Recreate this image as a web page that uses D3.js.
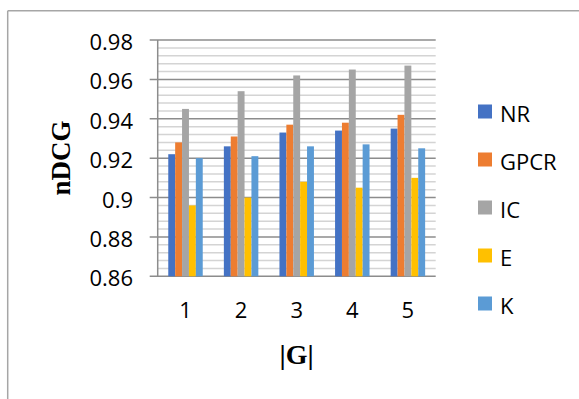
<!DOCTYPE html>
<html>
<head>
<meta charset="utf-8">
<script src="https://cdn.jsdelivr.net/npm/d3@7"></script>
<style>
  html, body { margin: 0; padding: 0; background: #fff; }
  svg { display: block; }
</style>
</head>
<body>
<svg id="chart" width="579" height="399"></svg>
<script>
const categories = ["1", "2", "3", "4", "5"];
const seriesNames = ["NR", "GPCR", "IC", "E", "K"];
const seriesColors = ["#4472C4", "#ED7D31", "#A5A5A5", "#FFC000", "#5B9BD5"];
const NR   = [0.922, 0.926, 0.933, 0.934, 0.935];
const GPCR = [0.928, 0.931, 0.937, 0.938, 0.942];
const IC   = [0.945, 0.954, 0.962, 0.965, 0.967];
const E    = [0.896, 0.900, 0.908, 0.905, 0.910];
const K    = [0.920, 0.921, 0.926, 0.927, 0.925];
const seriesValues = [NR, GPCR, IC, E, K];
const yTicks = [0.86, 0.88, 0.90, 0.92, 0.94, 0.96, 0.98];
const yTickLabels = ["0.86", "0.88", "0.9", "0.92", "0.94", "0.96", "0.98"];
const yMinorStep = 0.004;
const yTitle = "nDCG";
const xTitle = "|G|";

const svg = d3.select("#chart");
const plotLeft = 157.7, plotRight = 435.7, plotTop = 40, plotBottom = 276.3;
const tickFont = "'Open Sans', sans-serif";

// outer frame (top and left edges visible)
svg.append("line").attr("x1", 7.7).attr("x2", 579).attr("y1", 10.7).attr("y2", 10.7)
  .attr("stroke", "#a6a6a6").attr("stroke-width", 1.5);
svg.append("line").attr("x1", 7.7).attr("x2", 7.7).attr("y1", 10.7).attr("y2", 399)
  .attr("stroke", "#a6a6a6").attr("stroke-width", 1.5);

const y = d3.scaleLinear().domain([0.86, 0.98]).range([plotBottom, plotTop]);
const x = d3.scaleBand().domain(categories).range([plotLeft, plotRight])
  .paddingInner(0.38).paddingOuter(0.19);
const xs = d3.scaleBand().domain(seriesNames).range([0, x.bandwidth()]);

// minor gridlines
const minor = d3.range(0, 31).map(i => 0.86 + i * yMinorStep)
  .filter(v => !yTicks.some(t => Math.abs(t - v) < 1e-6));
svg.append("g").selectAll("line").data(minor).join("line")
  .attr("x1", plotLeft).attr("x2", plotRight)
  .attr("y1", d => y(d)).attr("y2", d => y(d))
  .attr("stroke", "#d4d4d4").attr("stroke-width", 1.5);

// major gridlines
svg.append("g").selectAll("line").data(yTicks).join("line")
  .attr("x1", plotLeft - 8).attr("x2", plotRight)
  .attr("y1", d => y(d)).attr("y2", d => y(d))
  .attr("stroke", "#8c8c8c").attr("stroke-width", 1.5);

// bars
const groups = svg.append("g").selectAll("g").data(seriesNames).join("g")
  .attr("fill", (d, i) => seriesColors[i]);
groups.selectAll("rect").data((s, si) => categories.map((c, ci) => ({c, s, v: seriesValues[si][ci]})))
  .join("rect")
  .attr("x", d => x(d.c) + xs(d.s))
  .attr("width", xs.bandwidth())
  .attr("y", d => y(d.v))
  .attr("height", d => y(0.86) - y(d.v));

// y axis line
svg.append("line").attr("x1", plotLeft).attr("x2", plotLeft).attr("y1", plotTop).attr("y2", plotBottom)
  .attr("stroke", "#8c8c8c").attr("stroke-width", 1.5);

// y tick labels
svg.append("g").selectAll("text").data(yTicks).join("text")
  .attr("x", 133).attr("y", d => y(d) + 1)
  .attr("text-anchor", "end").attr("dominant-baseline", "central")
  .attr("font-family", tickFont).attr("font-size", 22)
  .attr("fill", "#000")
  .text((d, i) => yTickLabels[i]);

// x tick labels
svg.append("g").selectAll("text").data(categories).join("text")
  .attr("x", d => x(d) + x.bandwidth() / 2).attr("y", 318)
  .attr("text-anchor", "middle")
  .attr("font-family", tickFont).attr("font-size", 22)
  .attr("fill", "#000")
  .text(d => d);

// axis titles
svg.append("text")
  .attr("transform", "translate(70,158) rotate(-90)")
  .attr("text-anchor", "middle")
  .attr("font-family", "'Liberation Serif', 'Times New Roman', serif")
  .attr("font-weight", "bold").attr("font-size", 27)
  .text(yTitle);
svg.append("text")
  .attr("x", 296.6).attr("y", 364)
  .attr("text-anchor", "middle")
  .attr("font-family", "'Liberation Serif', 'Times New Roman', serif")
  .attr("font-weight", "bold").attr("font-size", 28)
  .text(xTitle);

// legend
const legend = svg.append("g").selectAll("g").data(seriesNames).join("g")
  .attr("transform", (d, i) => `translate(478, ${111.5 + i * 48})`);
legend.append("rect").attr("x", 0).attr("y", -7).attr("width", 14).attr("height", 14)
  .attr("fill", (d, i) => seriesColors[i]);
legend.append("text").attr("x", 22).attr("y", 1)
  .attr("dominant-baseline", "central")
  .attr("font-family", tickFont).attr("font-size", 22)
  .text(d => d);
</script>
</body>
</html>
